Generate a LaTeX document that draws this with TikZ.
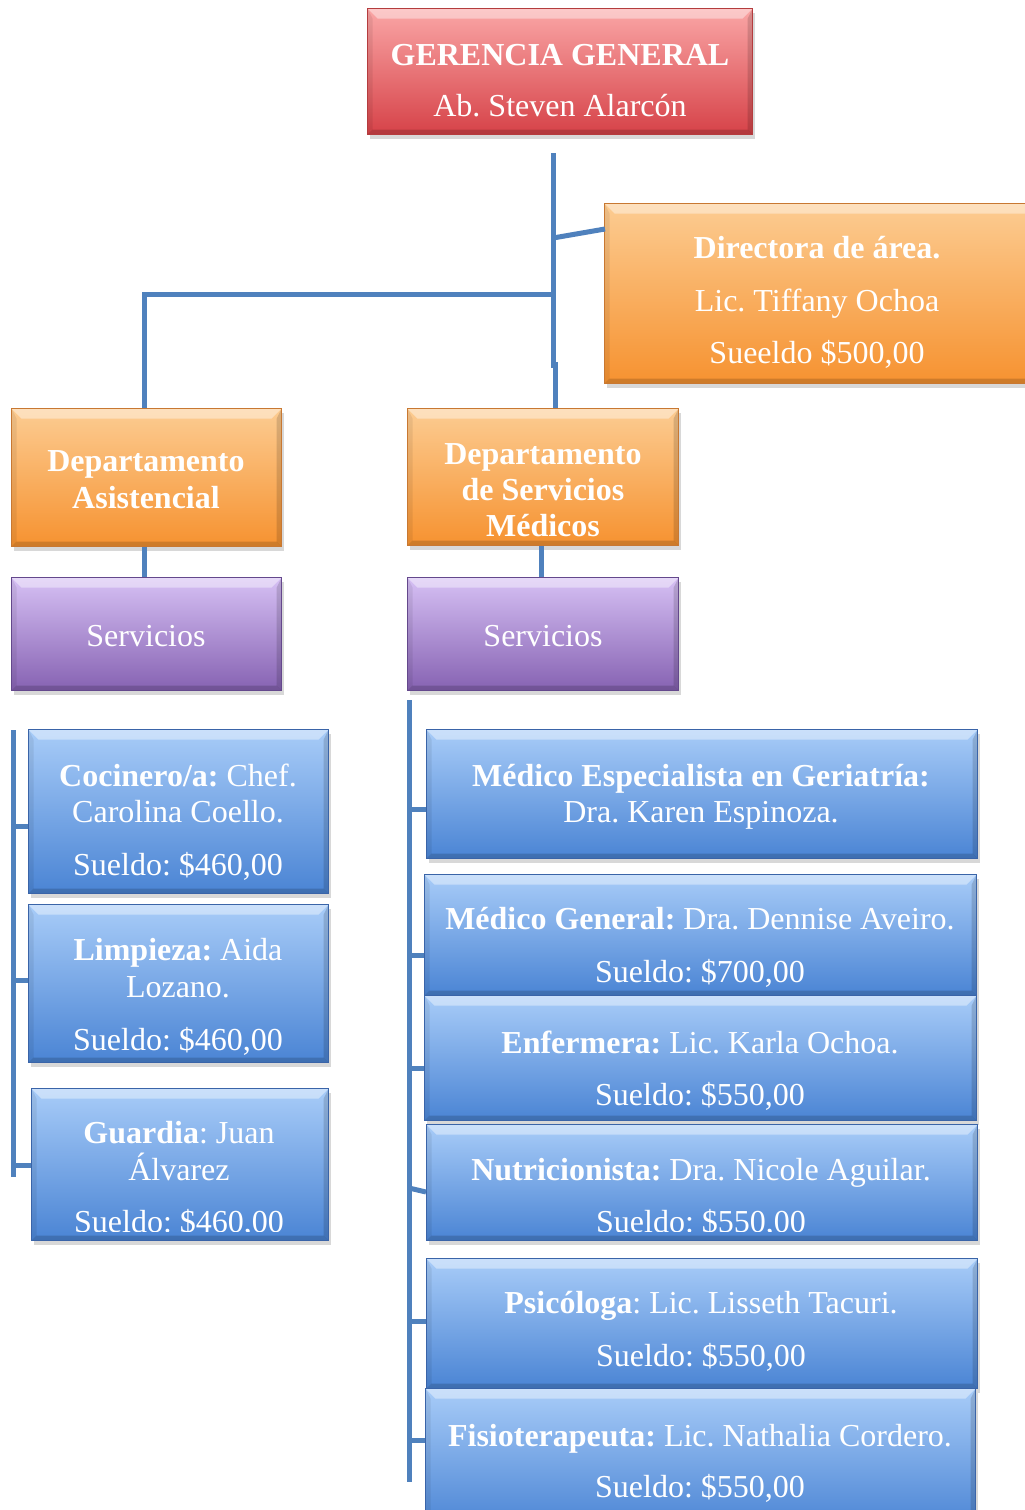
\documentclass[tikz,border=0pt]{standalone}
\usepackage{fontspec}
\setmainfont{Liberation Serif}
\usetikzlibrary{shadows}
\frenchspacing
\definecolor{redT}{RGB}{250,166,166}
\definecolor{redM}{RGB}{240,124,126}
\definecolor{redB}{RGB}{214,66,72}
\definecolor{redD}{RGB}{180,60,62}
\definecolor{orT}{RGB}{252,204,146}
\definecolor{orM}{RGB}{250,172,88}
\definecolor{orB}{RGB}{246,146,48}
\definecolor{orD}{RGB}{200,120,50}
\definecolor{puT}{RGB}{214,192,244}
\definecolor{puM}{RGB}{178,148,220}
\definecolor{puB}{RGB}{134,98,178}
\definecolor{puD}{RGB}{100,72,140}
\definecolor{blT}{RGB}{168,204,248}
\definecolor{blM}{RGB}{120,168,236}
\definecolor{blB}{RGB}{74,132,212}
\definecolor{blD}{RGB}{58,100,168}
\definecolor{lineblue}{RGB}{79,129,189}
\tikzset{
  bevel/.style={path picture={
    \fill[white,opacity=.40] (path picture bounding box.north west) -- (path picture bounding box.north east)
      -- ([xshift=-10pt,yshift=-10pt]path picture bounding box.north east)
      -- ([xshift=10pt,yshift=-10pt]path picture bounding box.north west) -- cycle;
    \fill[black,opacity=.14] (path picture bounding box.north east) -- (path picture bounding box.south east)
      -- ([xshift=-5pt,yshift=5pt]path picture bounding box.south east)
      -- ([xshift=-5pt,yshift=-10pt]path picture bounding box.north east) -- cycle;
    \fill[black,opacity=.07] (path picture bounding box.north west) -- (path picture bounding box.south west)
      -- ([xshift=5pt,yshift=5pt]path picture bounding box.south west)
      -- ([xshift=5pt,yshift=-10pt]path picture bounding box.north west) -- cycle;
    \fill[black,opacity=.16] (path picture bounding box.south west) -- (path picture bounding box.south east)
      -- ([xshift=-5pt,yshift=5pt]path picture bounding box.south east)
      -- ([xshift=5pt,yshift=5pt]path picture bounding box.south west) -- cycle;
  }},
  box/.style={rectangle, anchor=north west, inner sep=0pt, line width=1.2pt, bevel,
    drop shadow={shadow xshift=2pt, shadow yshift=-4pt, opacity=.3}},
  boxred/.style={box, top color=redT, middle color=redM, bottom color=redB, draw=redD},
  boxor/.style={box, top color=orT, middle color=orM, bottom color=orB, draw=orD},
  boxpu/.style={box, top color=puT, middle color=puM, bottom color=puB, draw=puD},
  boxbl/.style={box, top color=blT, middle color=blM, bottom color=blB, draw=blD},
  txt/.style={text=white, font=\fontsize{32}{38}\selectfont\frenchspacing, anchor=base, inner sep=0pt},
  conn/.style={draw=lineblue, line width=5pt}
}
\begin{document}
\begin{tikzpicture}[x=1pt,y=-1pt]
\useasboundingbox (0,0) rectangle (1025,1510);
\fill[white] (0,0) rectangle (1025,1510);

% ---------- boxes ----------
\node[boxred, minimum width=385pt, minimum height=126pt] (ger) at (367,8) {};
\node[boxor, minimum width=440pt, minimum height=180pt] (dir) at (604,203) {};
\node[boxor, minimum width=270pt, minimum height=138pt] (dasis) at (11,408) {};
\node[boxor, minimum width=271pt, minimum height=137pt] (dsm) at (407,408) {};
\node[boxpu, minimum width=270pt, minimum height=113pt] (serv1) at (11,577) {};
\node[boxpu, minimum width=271pt, minimum height=113pt] (serv2) at (407,577) {};
\node[boxbl, minimum width=300pt, minimum height=164pt] (coc) at (28,729) {};
\node[boxbl, minimum width=300pt, minimum height=158pt] (lim) at (28,904) {};
\node[boxbl, minimum width=297pt, minimum height=152pt] (gua) at (31,1088) {};
\node[boxbl, minimum width=551pt, minimum height=129pt] (mesp) at (426,729) {};
\node[boxbl, minimum width=552pt, minimum height=121pt] (mgen) at (424,874) {};
\node[boxbl, minimum width=552pt, minimum height=125pt] (enf) at (424,995) {};
\node[boxbl, minimum width=551pt, minimum height=116pt] (nut) at (426,1124) {};
\node[boxbl, minimum width=551pt, minimum height=130pt] (psi) at (426,1258) {};
\node[boxbl, minimum width=550pt, minimum height=140pt] (fis) at (425,1388) {};

% ---------- texts ----------
\node[txt] (t1) at (560,65) {\textbf{GERENCIA GENERAL}};
\node[txt] (t2) at (560,116) {Ab. Steven Alarcón};
\node[txt] (t3) at (817,258) {\textbf{Directora de área.}};
\node[txt] (t4) at (817,311) {Lic. Tiffany Ochoa};
\node[txt] (t5) at (817,363) {Sueeldo \$500,00};
\node[txt] (t6) at (146,471) {\textbf{Departamento}};
\node[txt] (t7) at (146,508) {\textbf{Asistencial}};
\node[txt] (t8) at (543,464) {\textbf{Departamento}};
\node[txt] (t9) at (543,500) {\textbf{de Servicios}};
\node[txt] (t10) at (543,536) {\textbf{Médicos}};
\node[txt] (t11) at (146,646) {Servicios};
\node[txt] (t12) at (543,646) {Servicios};
\node[txt] (t13) at (178,786) {\textbf{Cocinero/a:} Chef.};
\node[txt] (t14) at (178,822) {Carolina Coello.};
\node[txt] (t15) at (178,875) {Sueldo: \$460,00};
\node[txt] (t16) at (178,960) {\textbf{Limpieza:} Aida};
\node[txt] (t17) at (178,997) {Lozano.};
\node[txt] (t18) at (178,1050) {Sueldo: \$460,00};
\node[txt] (t19) at (179,1143) {\textbf{Guardia}: Juan};
\node[txt] (t20) at (179,1180) {Álvarez};
\begin{scope}
  \clip ([xshift=2pt,yshift=10pt]gua.south west) rectangle ([xshift=-2pt,yshift=200pt]gua.north east);
  \node[txt] (t21) at (179,1232) {Sueldo: \$460,00};
\end{scope}
\node[txt] (t22) at (701,786) {\textbf{Médico Especialista en Geriatría:}};
\node[txt] (t23) at (701,822) {Dra. Karen Espinoza.};
\node[txt] (t24) at (700,929) {\textbf{Médico General:} Dra. Dennise Aveiro.};
\node[txt] (t25) at (700,982) {Sueldo: \$700,00};
\node[txt] (t26) at (700,1053) {\textbf{Enfermera:} Lic. Karla Ochoa.};
\node[txt] (t27) at (700,1105) {Sueldo: \$550,00};
\node[txt] (t28) at (701,1180) {\textbf{Nutricionista:} Dra. Nicole Aguilar.};
\begin{scope}
  \clip ([xshift=2pt,yshift=10pt]nut.south west) rectangle ([xshift=-2pt,yshift=200pt]nut.north east);
  \node[txt] (t29) at (701,1232) {Sueldo: \$550,00};
\end{scope}
\node[txt] (t30) at (701,1313) {\textbf{Psicóloga}: Lic. Lisseth Tacuri.};
\node[txt] (t31) at (701,1366) {Sueldo: \$550,00};
\node[txt] (t32) at (700,1446) {\textbf{Fisioterapeuta:} Lic. Nathalia Cordero.};
\node[txt] (t33) at (700,1497) {Sueldo: \$550,00};

% ---------- connectors ----------
\coordinate (top) at (553,153);
\coordinate (jog) at (553,368);
\coordinate (brd) at (553,238);
\coordinate (brh) at (553,294);
\coordinate (dirin) at (605,229);
\coordinate (lft) at (144,294);
\draw[conn] (top) -- (jog);
\draw[conn] (555,362) -- (dsm.north -| 555,0);
\draw[conn] (brd) -- (dirin);
\draw[conn] (brh) -- (lft) -- (lft |- dasis.north);
\draw[conn] (dasis.south -| 144,0) -- (serv1.north -| 144,0);
\draw[conn] (dsm.south -| 541,0) -- (serv2.north -| 541,0);

% left list
\coordinate (la) at (13,730);
\coordinate (lb) at (13,1177);
\draw[conn] (la) -- (lb);
\draw[conn] (13,826) -- (coc.west |- 0,826);
\draw[conn] (13,980) -- (lim.west |- 0,980);
\draw[conn] (13,1165) -- (gua.west |- 0,1165);

% right list
\coordinate (ra) at (409,700);
\coordinate (rb) at (409,1482);
\draw[conn] (ra) -- (rb);
\draw[conn] (409,809) -- (mesp.west |- 0,809);
\draw[conn] (409,955) -- (mgen.west |- 0,955);
\draw[conn] (409,1068) -- (enf.west |- 0,1068);
\draw[conn] (409,1188) -- (nut.west |- 0,1192);
\draw[conn] (409,1321) -- (psi.west |- 0,1321);
\draw[conn] (409,1440) -- (fis.west |- 0,1440);
\end{tikzpicture}
\end{document}
